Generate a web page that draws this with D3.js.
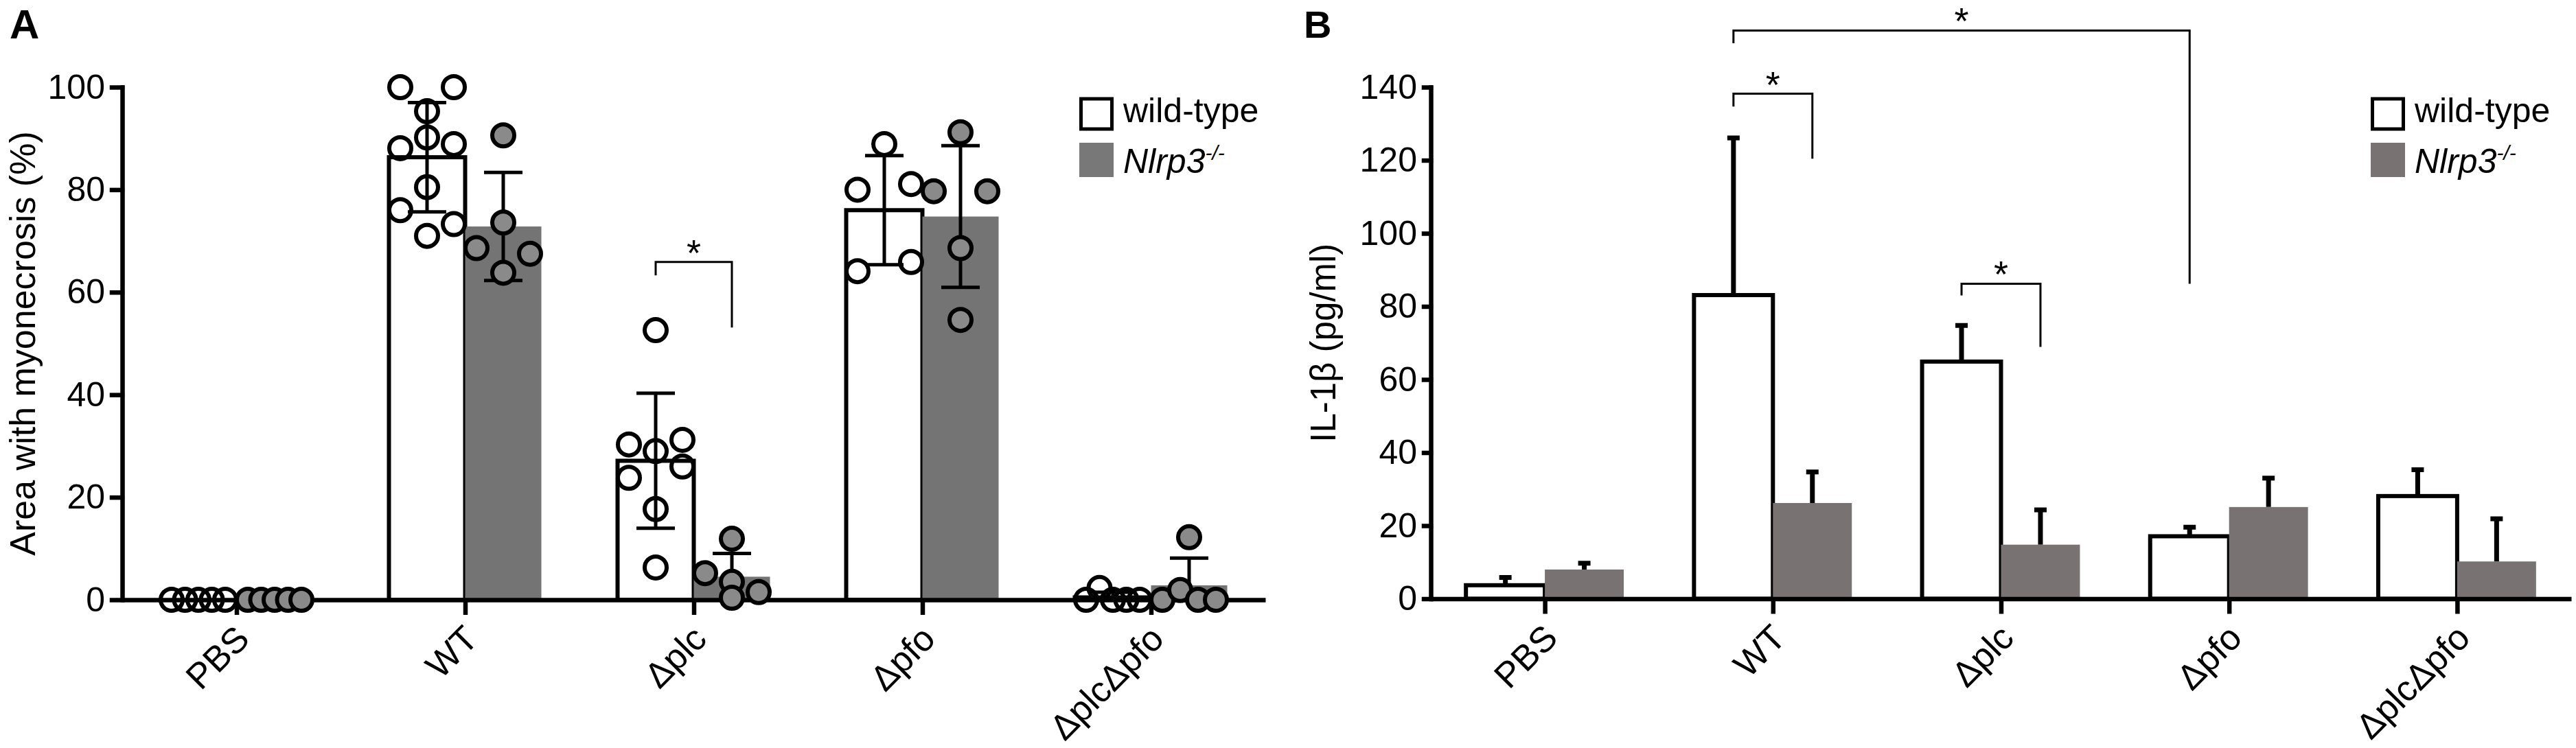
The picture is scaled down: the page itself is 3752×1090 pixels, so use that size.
<!DOCTYPE html>
<html>
<head>
<meta charset="utf-8">
<script src="https://cdn.jsdelivr.net/npm/d3@7"></script>
<style>
  body { margin: 0; background: #fff; }
  svg text { font-family: "Liberation Sans", Arial, Helvetica, sans-serif; fill: #000; }
</style>
</head>
<body>
<svg id="fig" width="3752" height="1090"></svg>
<script>
// ---- data ----
var categories = ['PBS', 'WT', 'Δplc', 'Δpfo', 'ΔplcΔpfo'];

// panel A: individual mice, % area with myonecrosis (listed row by row, left to right)
var necrosisWT = [
    [0, 0, 0, 0, 0],
    [100, 100, 95.3, 88.1, 90.2, 88.9, 80.5, 76, 73.3, 71],
    [52.6, 30.3, 29, 31.2, 23.8, 26, 17.7, 6.3],
    [88.9, 80, 81.1, 64.1, 65.9],
    [0, 2.3, 0, 0, 0]
];
var necrosisKO = [
    [0, 0, 0, 0, 0],
    [90.6, 73.6, 68.6, 67.5, 63.8],
    [11.9, 5.2, 3.5, 1.5, 0.4],
    [91.2, 79.7, 79.7, 68.6, 54.6],
    [12.2, 0, 1.9, 0, 0]
];

// panel B: IL-1b mean and SD (pg/ml)
var il1bMeanWT = [3.7, 83.1, 64.9, 17.1, 28.1];
var il1bSdWT = [2.1, 43.0, 9.9, 2.5, 7.2];
var il1bMeanKO = [8.0, 26.2, 14.8, 25.1, 10.2];
var il1bSdKO = [1.7, 8.5, 9.5, 7.9, 11.7];

var ticksA = [0, 20, 40, 60, 80, 100];
var ticksB = [0, 20, 40, 60, 80, 100, 120, 140];

// significance brackets: [category, series(0 wt / 1 ko)] ends, heights in data units
var sigA = [
    {a: ['Δplc', 0], b: ['Δplc', 1], top: 65.9, la: 63.3, lb: 53.1}
];
var sigB = [
    {a: ['WT', 0], b: ['WT', 1], top: 138.2, la: 134.7, lb: 120.4},
    {a: ['WT', 0], b: ['Δpfo', 0], top: 155.5, la: 152, lb: 86.2},
    {a: ['Δplc', 0], b: ['Δplc', 1], top: 86.2, la: 83, lb: 68.9}
];

var seriesNames = ['wild-type', 'Nlrp3'];

// ---- helpers ----
var svg = d3.select('#fig');

function drawYAxis(g, y, ticks, tickLen, x0) {
    var ax = g.append('g')
        .attr('transform', 'translate(' + x0 + ',0)')
        .call(d3.axisLeft(y).tickValues(ticks).tickSize(tickLen).tickSizeOuter(0).tickPadding(10));
    ax.selectAll('path, line').attr('stroke', '#000').attr('stroke-width', 6.5).attr('stroke-linecap', 'square');
    ax.selectAll('text').style('font-size', '50px').attr('font-family', null);
    return ax;
}

function drawXAxis(g, x, y0) {
    var ax = g.append('g')
        .attr('transform', 'translate(0,' + y0 + ')')
        .call(d3.axisBottom(x).tickSize(22).tickSizeOuter(0));
    ax.selectAll('path, line').attr('stroke', '#000').attr('stroke-width', 6.5);
    ax.selectAll('text')
        .attr('x', 0).attr('y', 0).attr('dy', 0)
        .attr('transform', 'translate(21,60) rotate(-45)')
        .style('text-anchor', 'end')
        .style('font-size', '52px')
        .attr('font-family', null);
    return ax;
}

function drawSig(g, list, x, y, barW) {
    list.forEach(function(s) {
        var xa = x(s.a[0]) + (s.a[1] === 0 ? -barW / 2 : barW / 2);
        var xb = x(s.b[0]) + (s.b[1] === 0 ? -barW / 2 : barW / 2);
        g.append('path')
            .attr('d', 'M' + xa + ',' + y(s.la) + 'V' + y(s.top) + 'H' + xb + 'V' + y(s.lb))
            .attr('fill', 'none').attr('stroke', '#000').attr('stroke-width', 3);
        g.append('text')
            .attr('x', (xa + xb) / 2)
            .attr('y', y(s.top) - 25 + 30)
            .attr('text-anchor', 'middle')
            .style('font-size', '54px')
            .text('*');
    });
}

function drawLegend(g, x0, boxFill) {
    g.append('rect').attr('x', x0 + 2.5).attr('y', 144).attr('width', 45).attr('height', 44)
        .attr('fill', '#fff').attr('stroke', '#000').attr('stroke-width', 5);
    g.append('rect').attr('x', x0).attr('y', 208).attr('width', 50).attr('height', 50)
        .attr('fill', boxFill);
    g.append('text').attr('x', x0 + 64).attr('y', 178).style('font-size', '50px').text(seriesNames[0]);
    var t = g.append('text').attr('x', x0 + 64).attr('y', 252).style('font-size', '50px');
    t.append('tspan').style('font-style', 'italic').text(seriesNames[1]);
    t.append('tspan').style('font-style', 'italic').style('font-size', '30px').attr('dy', -19).text('-/-');
}

// row-wise scatter: points of one row spread evenly over +-halfW
function swarm(values, y, cx, halfW, bin) {
    var out = [], row = [];
    function flush() {
        var n = row.length;
        row.forEach(function(v, i) {
            out.push({v: v, x: n === 1 ? cx : cx - halfW + 2 * halfW * i / (n - 1)});
        });
        row = [];
    }
    values.forEach(function(v) {
        if (row.length && Math.abs(y(v) - y(row[0])) > bin) flush();
        row.push(v);
    });
    flush();
    return out;
}

// ================= Panel A =================
var gA = svg.append('g');
var yA = d3.scaleLinear().domain([0, 100]).range([874, 127]);
var xA = d3.scalePoint().domain(categories).range([178, 1843]).padding(0.5);
var barWA = xA.step() / 3;
var greyBarA = '#747474', greyDotA = '#8a8a8a';

gA.append('text').attr('x', 14).attr('y', 56).style('font-size', '60px').style('font-weight', 'bold').text('A');
gA.append('text')
    .attr('transform', 'translate(51,' + (yA(50) + 0) + ') rotate(-90)')
    .attr('text-anchor', 'middle')
    .style('font-size', '52px')
    .text('Area with myonecrosis (%)');

var statsA = categories.map(function(c, i) {
    return [necrosisWT[i], necrosisKO[i]].map(function(vals, s) {
        return {cat: c, s: s, vals: vals, mean: d3.mean(vals), sd: d3.deviation(vals) || 0};
    });
});
var flatA = d3.merge(statsA);

// bars
gA.selectAll('rect.bar').data(flatA).enter().append('rect')
    .attr('class', 'bar')
    .attr('x', function(d) { return xA(d.cat) - (d.s === 0 ? barWA : 0); })
    .attr('y', function(d) { return yA(d.mean); })
    .attr('width', barWA)
    .attr('height', function(d) { return yA(0) - yA(d.mean); })
    .attr('fill', function(d) { return d.s === 0 ? '#fff' : greyBarA; })
    .attr('stroke', function(d) { return d.s === 0 ? '#000' : 'none'; })
    .attr('stroke-width', 6);

drawXAxis(gA, xA, 874);
drawYAxis(gA, yA, ticksA, 15, 178);

// error bars (mean +- SD)
flatA.filter(function(d) { return d.sd > 0; }).forEach(function(d) {
    var cx = xA(d.cat) + (d.s === 0 ? -barWA / 2 : barWA / 2);
    var lo = Math.max(0, d.mean - d.sd), hi = d.mean + d.sd;
    var path = 'M' + cx + ',' + yA(lo) + 'V' + yA(hi) + 'M' + (cx - 28) + ',' + yA(hi) + 'H' + (cx + 28);
    if (d.mean - d.sd > 0) path += 'M' + (cx - 28) + ',' + yA(lo) + 'H' + (cx + 28);
    gA.append('path').attr('d', path).attr('fill', 'none').attr('stroke', '#000').attr('stroke-width', 5);
});

// individual points
flatA.forEach(function(d) {
    var cx = xA(d.cat) + (d.s === 0 ? -barWA / 2 : barWA / 2);
    var pts = swarm(d.vals, yA, cx, 39, 31);
    gA.selectAll(null).data(pts).enter().append('circle')
        .attr('cx', function(p) { return p.x; })
        .attr('cy', function(p) { return yA(p.v); })
        .attr('r', 16)
        .attr('fill', d.s === 0 ? 'none' : greyDotA)
        .attr('stroke', '#000')
        .attr('stroke-width', 6);
});

drawSig(gA, sigA, xA, yA, barWA);
drawLegend(gA, 1572, '#787878');

// ================= Panel B =================
var gB = svg.append('g');
var yB = d3.scaleLinear().domain([0, 140]).range([872.5, 127]);
var xB = d3.scalePoint().domain(categories).range([2084, 3745]).padding(0.5);
var barWB = xB.step() * 0.346;
var greyB = '#787372';

gB.append('text').attr('x', 1899).attr('y', 55).style('font-size', '56px').style('font-weight', 'bold').text('B');
gB.append('text')
    .attr('transform', 'translate(1945,' + yB(70) + ') rotate(-90)')
    .attr('text-anchor', 'middle')
    .style('font-size', '51px')
    .text('IL-1β (pg/ml)');

var flatB = [];
categories.forEach(function(c, i) {
    flatB.push({cat: c, s: 0, mean: il1bMeanWT[i], sd: il1bSdWT[i]});
    flatB.push({cat: c, s: 1, mean: il1bMeanKO[i], sd: il1bSdKO[i]});
});

// error bars (upper only)
flatB.forEach(function(d) {
    var cx = xB(d.cat) + (d.s === 0 ? -barWB / 2 : barWB / 2);
    gB.append('path')
        .attr('d', 'M' + cx + ',' + yB(d.mean) + 'V' + yB(d.mean + d.sd) + 'M' + (cx - 9) + ',' + yB(d.mean + d.sd) + 'H' + (cx + 9))
        .attr('fill', 'none').attr('stroke', '#000').attr('stroke-width', 7);
});

gB.selectAll('rect.bar').data(flatB).enter().append('rect')
    .attr('class', 'bar')
    .attr('x', function(d) { return xB(d.cat) - (d.s === 0 ? barWB : 0); })
    .attr('y', function(d) { return yB(d.mean); })
    .attr('width', barWB)
    .attr('height', function(d) { return yB(0) - yB(d.mean); })
    .attr('fill', function(d) { return d.s === 0 ? '#fff' : greyB; })
    .attr('stroke', function(d) { return d.s === 0 ? '#000' : 'none'; })
    .attr('stroke-width', 6);

drawXAxis(gB, xB, 872.5);
drawYAxis(gB, yB, ticksB, 10, 2084);

drawSig(gB, sigB, xB, yB, barWB);
drawLegend(gB, 3453, greyB);
</script>
</body>
</html>
